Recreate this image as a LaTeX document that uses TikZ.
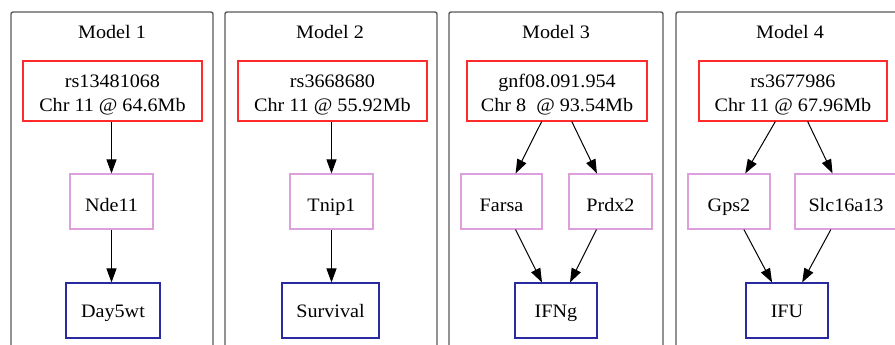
\documentclass[tikz,border=0pt]{standalone}
\usepackage{fontspec}
\setmainfont{Liberation Serif}[FakeStretch=1.06]
\usetikzlibrary{arrows.meta}
\definecolor{snpred}{HTML}{FF2A2A}
\definecolor{genepink}{HTML}{DDA0DD}
\definecolor{traitblue}{HTML}{2A2AA0}
\definecolor{panelgray}{HTML}{5A5A5A}
\newcommand{\firststrut}{\rule{0pt}{21pt}}
\tikzset{
  panel/.style={draw=panelgray, line width=1.4pt, rounded corners=2pt},
  box/.style={line width=1.1pt, align=center, inner sep=0pt, font=\fontsize{19}{24}\selectfont},
  snp/.style={box, draw=snpred, minimum height=60pt},
  gene/.style={box, draw=genepink, minimum height=55pt, text height=19.5pt, text depth=0pt},
  trait/.style={box, draw=traitblue, minimum height=55pt, text height=14.5pt, text depth=0pt},
  title/.style={font=\fontsize{19}{23}\selectfont, inner sep=0pt},
  edge/.style={-{Triangle[length=14pt,width=10pt]}, line width=1pt, draw=black}
}
\begin{document}
\begin{tikzpicture}[x=1pt,y=-1pt]
\useasboundingbox (0,0) rectangle (895,345);
\clip (0,0) rectangle (895,345);
\fill[white] (0,0) rectangle (895,345);
% panels
\draw[panel] (11,360) -- (11,12) -- (213,12) -- (213,360);
\draw[panel] (225,360) -- (225,12) -- (437,12) -- (437,360);
\draw[panel] (449,360) -- (449,12) -- (663,12) -- (663,360);
\draw[panel] (676,360) -- (676,12) -- (910,12);
% titles
\node[title] (m1) at (112,32) {Model 1};
\node[title] (m2) at (330,32) {Model 2};
\node[title] (m3) at (556,32) {Model 3};
\node[title] (m4) at (790,32) {Model 4};
% model 1
\node[snp, minimum width=179pt] (r1) at (112.5,91) {\firststrut rs13481068\\Chr 11 @ 64.6Mb};
\node[gene, minimum width=83pt] (n1) at (111.5,201.5) {Nde11};
\node[trait, minimum width=94pt] (d1) at (113,310.5) {Day5wt};
\draw[edge] (r1.south -| n1.north) -- (n1.north);
\draw[edge] (n1.south) -- (d1.north -| n1.south);
% model 2
\node[snp, minimum width=189pt] (r2) at (332.5,91) {\firststrut rs3668680\\Chr 11 @ 55.92Mb};
\node[gene, minimum width=83pt] (t2) at (331.5,201.5) {Tnip1};
\node[trait, minimum width=97pt] (s2) at (330.5,310.5) {Survival};
\draw[edge] (r2.south -| t2.north) -- (t2.north);
\draw[edge] (t2.south) -- (s2.north -| t2.south);
% model 3
\node[snp, minimum width=180pt] (r3) at (557,91) {\firststrut gnf08.091.954\\Chr 8 \ @ 93.54Mb};
\node[gene, minimum width=81pt] (f3) at (501.5,201.5) {Farsa};
\node[gene, minimum width=83pt] (p3) at (610.5,201.5) {Prdx2};
\node[trait, minimum width=82pt] (i3) at (556,310.5) {IFNg};
\draw[edge] (r3) -- (f3);
\draw[edge] (r3) -- (p3);
\draw[edge] (f3) -- (i3);
\draw[edge] (p3) -- (i3);
% model 4
\node[snp, minimum width=188pt] (r4) at (793,91) {\firststrut rs3677986\\Chr 11 @ 67.96Mb};
\node[gene, minimum width=82pt] (g4) at (729,201.5) {Gps2};
\node[gene, minimum width=102pt] (s4) at (846,201.5) {Slc16a13};
\node[trait, minimum width=82pt] (i4) at (787,310.5) {IFU};
\draw[edge] (r4) -- (g4);
\draw[edge] (r4) -- (s4);
\draw[edge] (g4) -- (i4);
\draw[edge] (s4) -- (i4);
\end{tikzpicture}
\end{document}
